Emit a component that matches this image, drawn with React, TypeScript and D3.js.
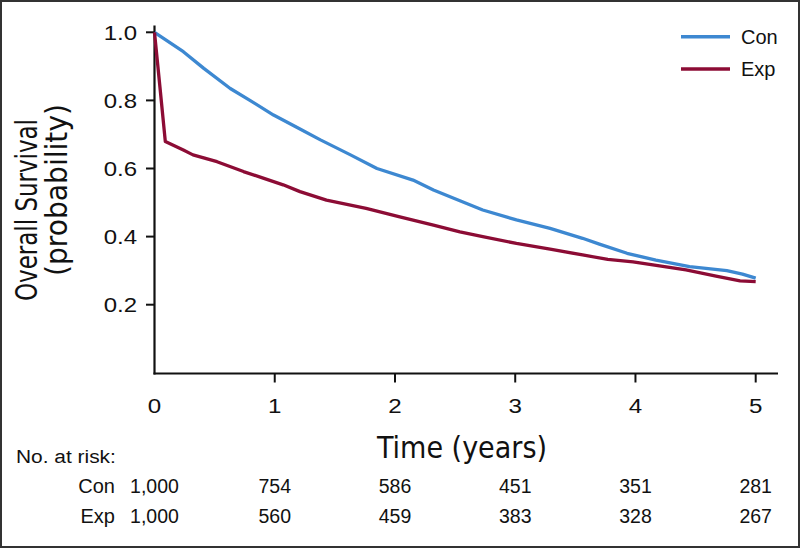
import React, { useRef, useEffect } from 'react';
import * as d3 from 'd3';

// ─── Data ──────────────────────────────────────────────────────────────────
const conTimes = [0, 0.24, 0.41, 0.63, 0.79, 0.99, 1.21, 1.38, 1.63, 1.85, 2.15, 2.32, 2.54, 2.73, 3.01, 3.29, 3.56, 3.7, 3.93, 4.17, 4.45, 4.76, 4.89, 5.0];
const conSurv = [1.0, 0.943, 0.894, 0.835, 0.801, 0.757, 0.716, 0.684, 0.64, 0.6, 0.566, 0.537, 0.505, 0.478, 0.449, 0.424, 0.395, 0.378, 0.351, 0.331, 0.312, 0.3, 0.29, 0.278];

const expTimes = [0, 0.045, 0.09, 0.24, 0.32, 0.52, 0.74, 0.91, 1.07, 1.21, 1.43, 1.76, 2.04, 2.32, 2.54, 2.73, 3.01, 3.29, 3.56, 3.77, 3.98, 4.2, 4.42, 4.67, 4.87, 5.0];
const expSurv = [1.0, 0.84, 0.679, 0.654, 0.64, 0.62, 0.591, 0.571, 0.552, 0.532, 0.507, 0.483, 0.458, 0.434, 0.414, 0.4, 0.38, 0.363, 0.346, 0.333, 0.326, 0.314, 0.302, 0.284, 0.27, 0.268];

const xTicks = [0, 1, 2, 3, 4, 5];
const yTicks = [0.2, 0.4, 0.6, 0.8, 1.0];

const riskGroups = ['Con', 'Exp'];
const conAtRisk = ['1,000', '754', '586', '451', '351', '281'];
const expAtRisk = ['1,000', '560', '459', '383', '328', '267'];

const COLORS: Record<string, string> = { Con: '#3d88d1', Exp: '#8c0c35' };

const W = 801;
const H = 549;

const App: React.FC = () => {
    const ref = useRef<SVGSVGElement | null>(null);

    useEffect(() => {
        if (!ref.current) return;
        const svg = d3.select(ref.current);
        svg.selectAll('*').remove();

        const numFont = "'Liberation Sans', Arial, sans-serif";
        const titleFont = "'Liberation Sans Narrow', 'DejaVu Sans Condensed', 'Liberation Sans', sans-serif";

        // text helper: the source figure is slightly stretched sideways
        const label = (
            px: number, py: number, str: string, size: number,
            anchor: string = 'start', sx: number = 1, dy: string = '0'
        ) => {
            svg.append('g')
                .attr('transform', `translate(${px},${py}) scale(${sx},1)`)
                .append('text')
                .attr('dy', dy)
                .attr('text-anchor', anchor)
                .style('font-family', numFont)
                .style('font-size', `${size}px`)
                .style('fill', '#111')
                .text(str);
        };

        // frame
        svg.append('rect')
            .attr('x', 1).attr('y', 1)
            .attr('width', W - 3).attr('height', H - 3)
            .attr('fill', '#fff')
            .attr('stroke', '#333')
            .attr('stroke-width', 2);

        // scales
        const x = d3.scaleLinear().domain([0, 5]).range([154.5, 755.7]);
        const y = d3.scaleLinear().domain([0, 1]).range([372.8, 32.3]);

        // axes lines
        svg.append('line')
            .attr('x1', 154.5).attr('x2', 154.5)
            .attr('y1', 25.5).attr('y2', 374.5)
            .attr('stroke', '#111').attr('stroke-width', 2.2);
        svg.append('line')
            .attr('x1', 153.5).attr('x2', 778)
            .attr('y1', 373.5).attr('y2', 373.5)
            .attr('stroke', '#111').attr('stroke-width', 2.2);

        // y ticks
        yTicks.forEach(v => {
            svg.append('line')
                .attr('x1', 146).attr('x2', 154.5)
                .attr('y1', y(v)).attr('y2', y(v))
                .attr('stroke', '#111').attr('stroke-width', 2);
            label(137, y(v), d3.format('.1f')(v), 20, 'end', 1.2, '0.36em');
        });

        // x ticks
        xTicks.forEach(v => {
            if (v > 0) {
                svg.append('line')
                    .attr('x1', x(v)).attr('x2', x(v))
                    .attr('y1', 373.5).attr('y2', 382.5)
                    .attr('stroke', '#111').attr('stroke-width', 2);
            }
            label(x(v), 413, String(v), 21, 'middle', 1.15);
        });

        // axis titles
        svg.append('text')
            .attr('x', 462).attr('y', 458)
            .attr('text-anchor', 'middle')
            .attr('textLength', 170)
            .attr('lengthAdjust', 'spacingAndGlyphs')
            .style('font-family', titleFont)
            .style('font-size', '31px')
            .style('fill', '#111')
            .text('Time (years)');

        const yl = svg.append('g').attr('transform', 'translate(0,210) rotate(-90)');
        yl.append('text')
            .attr('x', 0).attr('y', 37)
            .attr('text-anchor', 'middle')
            .attr('textLength', 182)
            .attr('lengthAdjust', 'spacingAndGlyphs')
            .style('font-family', titleFont)
            .style('font-size', '31px')
            .style('fill', '#111')
            .text('Overall Survival');
        yl.append('text')
            .attr('x', 20).attr('y', 67)
            .attr('text-anchor', 'middle')
            .attr('textLength', 172)
            .attr('lengthAdjust', 'spacingAndGlyphs')
            .style('font-family', titleFont)
            .style('font-size', '31px')
            .style('fill', '#111')
            .text('(probability)');

        // curves
        const line = d3.line<[number, number]>()
            .x(d => x(d[0]))
            .y(d => y(d[1]))
            .curve(d3.curveLinear);

        const series = [
            { name: 'Con', t: conTimes, s: conSurv },
            { name: 'Exp', t: expTimes, s: expSurv },
        ];
        series.forEach(se => {
            const pts = se.t.map((t, i) => [t, se.s[i]] as [number, number]);
            svg.append('path')
                .attr('d', line(pts) as string)
                .attr('fill', 'none')
                .attr('stroke', COLORS[se.name])
                .attr('stroke-width', 3.3)
                .attr('stroke-linejoin', 'round');
        });

        // legend
        const legendY = [36.7, 69];
        riskGroups.forEach((g, i) => {
            svg.append('line')
                .attr('x1', 681).attr('x2', 730)
                .attr('y1', legendY[i]).attr('y2', legendY[i])
                .attr('stroke', COLORS[g])
                .attr('stroke-width', 3.5);
            label(741, legendY[i], g, 20, 'start', 1, '0.36em');
        });

        // number at risk table
        label(16, 463, 'No. at risk:', 19, 'start', 1.1);

        const rows = [conAtRisk, expAtRisk];
        const rowY = [493, 523];
        rows.forEach((vals, r) => {
            label(115, rowY[r], riskGroups[r], 20, 'end', 1);
            vals.forEach((v, i) => {
                label(x(xTicks[i]), rowY[r], v, 19.5, 'middle', 1);
            });
        });
    }, []);

    return (
        <div style={{ position: 'fixed', left: 0, top: 0, width: W, height: H, background: '#fff' }}>
            <svg ref={ref} width={W} height={H} style={{ display: 'block' }} />
        </div>
    );
};

export default App;
